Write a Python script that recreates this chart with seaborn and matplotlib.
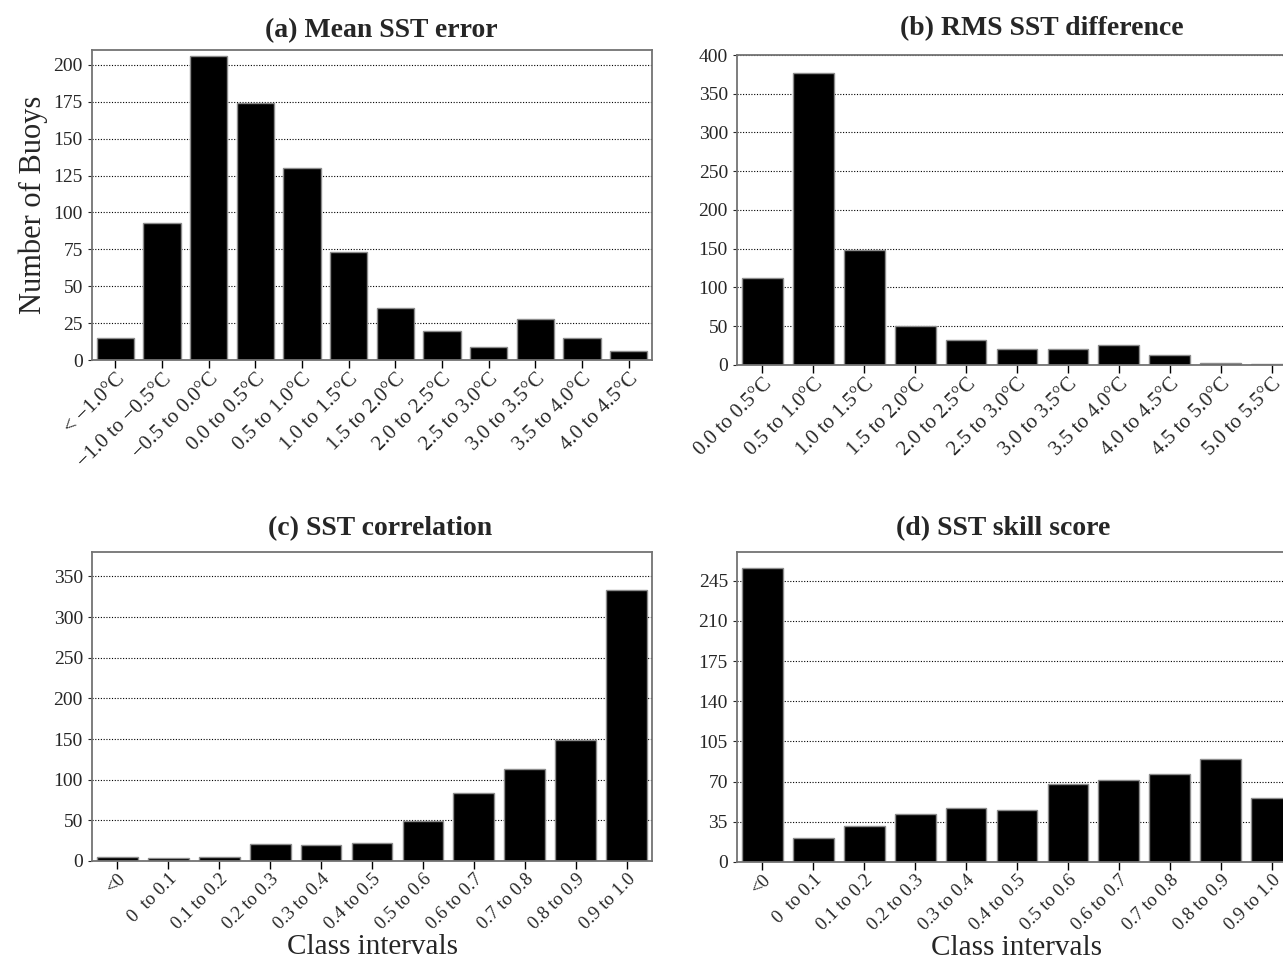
import matplotlib
matplotlib.use("Agg")
import matplotlib.pyplot as plt
import seaborn as sns

# Etiquetas de clase
labels_a = ["< \u22121.0\u00b0C", "\u22121.0 to \u22120.5\u00b0C", "\u22120.5 to 0.0\u00b0C",
            "0.0 to 0.5\u00b0C", "0.5 to 1.0\u00b0C", "1.0 to 1.5\u00b0C", "1.5 to 2.0\u00b0C",
            "2.0 to 2.5\u00b0C", "2.5 to 3.0\u00b0C", "3.0 to 3.5\u00b0C", "3.5 to 4.0\u00b0C",
            "4.0 to 4.5\u00b0C"]
labels_b = ["0.0 to 0.5\u00b0C", "0.5 to 1.0\u00b0C", "1.0 to 1.5\u00b0C", "1.5 to 2.0\u00b0C",
            "2.0 to 2.5\u00b0C", "2.5 to 3.0\u00b0C", "3.0 to 3.5\u00b0C", "3.5 to 4.0\u00b0C",
            "4.0 to 4.5\u00b0C", "4.5 to 5.0\u00b0C", "5.0 to 5.5\u00b0C"]
labels_cd = ["<0", "0  to 0.1", "0.1 to 0.2", "0.2 to 0.3", "0.3 to 0.4", "0.4 to 0.5",
             "0.5 to 0.6", "0.6 to 0.7", "0.7 to 0.8", "0.8 to 0.9", "0.9 to 1.0"]

# Numero de boyas por clase
mean_err = [15, 93, 206, 174, 130, 73, 35, 20, 9, 28, 15, 6]
rms_diff = [112, 377, 149, 50, 32, 21, 21, 26, 13, 2, 1]
correlation = [5, 4, 5, 21, 20, 22, 49, 83, 113, 149, 333]
skill = [256, 21, 31, 42, 47, 45, 68, 71, 77, 90, 56]

sns.set_style("white")
plt.rcParams['font.family'] = ['Liberation Serif', 'DejaVu Serif']

fig = plt.figure(figsize=(12.83, 9.65), dpi=100)
ax_a = fig.add_axes([0.0717, 0.6269, 0.4365, 0.3212])
ax_b = fig.add_axes([0.5744, 0.6218, 0.4365, 0.3212])
ax_c = fig.add_axes([0.0717, 0.1078, 0.4365, 0.3202])
ax_d = fig.add_axes([0.5744, 0.1068, 0.4365, 0.3212])

paneles = [
    (ax_a, labels_a, mean_err, "(a) Mean SST error", 0.516, 9, (0, 210), [0, 25, 50, 75, 100, 125, 150, 175, 200], 15),
    (ax_b, labels_b, rms_diff, "(b) RMS SST difference", 0.545, 14, (0, 400), [0, 50, 100, 150, 200, 250, 300, 350, 400], 15),
    (ax_c, labels_cd, correlation, "(c) SST correlation", 0.514, 12, (0, 380), [0, 50, 100, 150, 200, 250, 300, 350], 13.5),
    (ax_d, labels_cd, skill, "(d) SST skill score", 0.475, 12, (0, 270), [0, 35, 70, 105, 140, 175, 210, 245], 13.5),
]

for ax, labels, values, title, tx, pad, ylim, yticks, xsize in paneles:
    ax.set_axisbelow(True)
    ax.yaxis.grid(True, linestyle=(0, (1, 1.5)), color='black', linewidth=0.8)
    sns.barplot(x=labels, y=values, color='black', edgecolor='0.55', linewidth=1,
                width=0.8, saturation=1, ax=ax)
    ax.set_ylim(*ylim)
    ax.set_yticks(yticks)
    ax.set_title(title, fontsize=20, fontweight='bold', x=tx, pad=pad)
    ax.tick_params(axis='x', direction='out', length=6, width=1, color='black',
                   bottom=True, labelsize=xsize, pad=1)
    ax.tick_params(axis='y', direction='out', length=3, width=0.8, left=True, labelsize=14)
    plt.setp(ax.get_xticklabels(), rotation=45, ha='right', rotation_mode='anchor')
    for s in ax.spines.values():
        s.set_color('0.45')
        s.set_linewidth(1.3)
    ax.set_xlabel("")
    ax.set_ylabel("")

ax_a.set_ylabel("Number of Buoys", fontsize=22, labelpad=4)
for ax in (ax_c, ax_d):
    ax.set_xlabel("Class intervals", fontsize=21)
    ax.xaxis.set_label_coords(0.5, -0.236)

fig.savefig("out.png", dpi=100)
